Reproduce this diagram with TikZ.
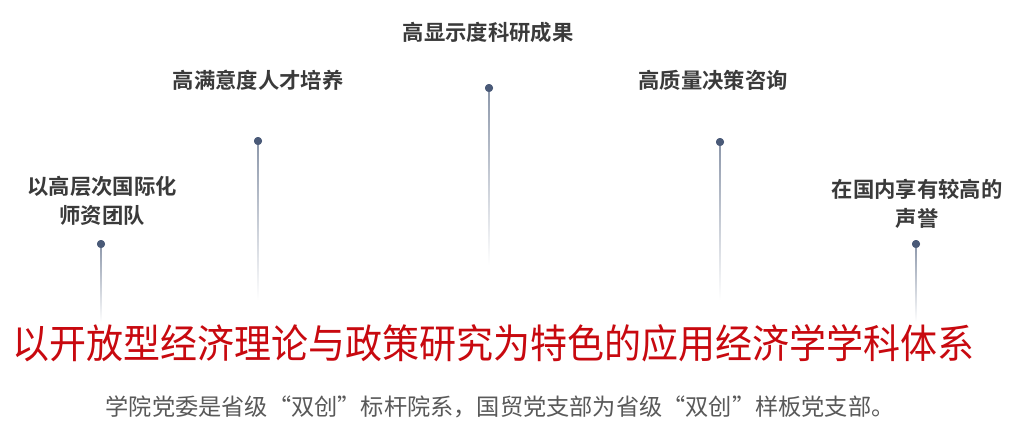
\documentclass[tikz,border=0pt]{standalone}
\usepackage{fontspec}
\newfontfamily\cjk{Noto Sans CJK SC}[BoldFont={Noto Sans CJK SC Bold}]
\usepackage{xcolor}
\definecolor{PillarDot}  {HTML}{4A5A78}
\definecolor{PillarLine} {HTML}{8C97AA}
\definecolor{PillarText} {HTML}{3A3A3A}
\definecolor{TitleRed}   {HTML}{C8090F}
\definecolor{NoteGray}   {HTML}{595959}
\usetikzlibrary{positioning}
\tikzset{
  pillar/.style={font=\cjk\bfseries\fontsize{16}{21.5}\selectfont,
    text=PillarText,align=center,inner sep=0pt},
  pindot/.style={circle,fill=PillarDot,inner sep=0pt,minimum size=6pt},
}
\begin{document}
\begin{tikzpicture}[x=0.75pt,y=-0.75pt]
  \useasboundingbox[fill=white](0,0) rectangle (1021,437);
  % Pillar 1
  \node[pillar] (lab1) at (102,201) {以高层次国际化\\师资团队};
  \node[pindot] (dot1) at (101,244) {};
  \coordinate (end1) at (101,322);
  % Pillar 2
  \node[pillar] (lab2) at (258,80) {高满意度人才培养};
  \node[pindot] (dot2) at (258,141) {};
  \coordinate (end2) at (258,300);
  % Pillar 3
  \node[pillar] (lab3) at (488,32) {高显示度科研成果};
  \node[pindot] (dot3) at (489,88) {};
  \coordinate (end3) at (489,265);
  % Pillar 4
  \node[pillar] (lab4) at (713,80) {高质量决策咨询};
  \node[pindot] (dot4) at (720,142) {};
  \coordinate (end4) at (720,300);
  % Pillar 5
  \node[pillar] (lab5) at (917,204) {在国内享有较高的\\声誉};
  \node[pindot] (dot5) at (916,244) {};
  \coordinate (end5) at (916,322);
  % Fading stems
  \foreach \i in {1,...,5}{
    \shade[top color=PillarLine,bottom color=white]
      ([xshift=-0.55pt]dot\i.center) rectangle ([xshift=0.55pt]end\i);
    \node[pindot] at (dot\i) {};
  }
  % Title
  \node[font=\cjk\fontsize{30}{34}\selectfont,text=TitleRed,inner sep=0pt,
    xscale=0.925] (title) at (494,343)
    {以开放型经济理论与政策研究为特色的应用经济学学科体系};
  % Note
  \node[font=\cjk\fontsize{17.4}{20}\selectfont,text=NoteGray,inner sep=0pt]
    (note) at (500,407)
    {学院党委是省级“双创”标杆院系，国贸党支部为省级“双创”样板党支部。};
\end{tikzpicture}
\end{document}
